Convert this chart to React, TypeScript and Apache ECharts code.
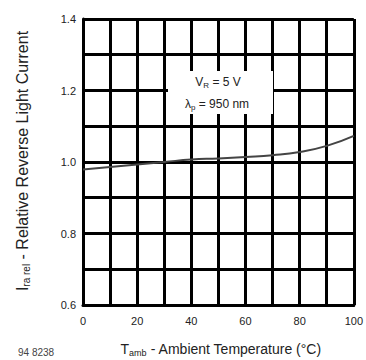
import React, { useEffect, useRef } from "react";
import * as echarts from "echarts";

const temps = [0, 10, 20, 30, 40, 50, 60, 70, 80, 90, 100];
const relCurrent = [0.979, 0.986, 0.993, 1.0, 1.007, 1.01, 1.014, 1.019, 1.028, 1.045, 1.073];
const xTickLabels = [0, 20, 40, 60, 80, 100];
const yTickLabels = [0.6, 0.8, 1.0, 1.2, 1.4];

export default function App() {
  const ref = useRef<HTMLDivElement>(null);
  useEffect(() => {
    if (!ref.current) return;
    const chart = echarts.init(ref.current, null, { renderer: "svg" });
    const font = "Liberation Sans, Arial, sans-serif";
    const rich = (n: number, s: number, pad: number) => ({
      n: { fontSize: n, fontFamily: font, fill: "#222" },
      s: { fontSize: s, fontFamily: font, fill: "#222", padding: [pad, 0, 0, 0] },
    });
    chart.setOption({
      animation: false,
      backgroundColor: "#fff",
      grid: { left: 83, right: 9, top: 19, bottom: 55, containLabel: false },
      xAxis: {
        type: "value",
        min: 0,
        max: 100,
        interval: 10,
        axisLine: { show: true, lineStyle: { color: "#000", width: 3 } },
        axisTick: { show: false },
        splitLine: { show: true, lineStyle: { color: "#000", width: 3 } },
        axisLabel: {
          color: "#222",
          fontFamily: font,
          fontSize: 11,
          margin: 10,
          formatter: (v: number) => (xTickLabels.includes(Math.round(v)) ? String(Math.round(v)) : ""),
        },
      },
      yAxis: {
        type: "value",
        min: 0.6,
        max: 1.4,
        interval: 0.1,
        axisLine: { show: true, lineStyle: { color: "#000", width: 3 } },
        axisTick: { show: false },
        splitLine: { show: true, lineStyle: { color: "#000", width: 3 } },
        axisLabel: {
          color: "#222",
          fontFamily: font,
          fontSize: 11,
          margin: 7,
          formatter: (v: number) => {
            const r = Math.round(v * 10) / 10;
            return yTickLabels.some((t) => Math.abs(t - r) < 1e-6) ? r.toFixed(1) : "";
          },
        },
      },
      series: [
        {
          type: "line",
          data: temps.map((t, i) => [t, relCurrent[i]]),
          smooth: true,
          showSymbol: false,
          lineStyle: { color: "#444", width: 2 },
          z: 5,
        },
      ],
      graphic: [
        { type: "rect", shape: { x: 168, y: 71, width: 105, height: 43 }, style: { fill: "#fff" }, z: 10 },
        {
          type: "text",
          x: 218,
          y: 82,
          z: 11,
          style: {
            text: "{n|V}{s|R}{n| = 5 V}",
            align: "center",
            verticalAlign: "middle",
            fill: "#222",
            font: `12px ${font}`,
            rich: rich(12, 8, 7),
          },
        },
        {
          type: "text",
          x: 217,
          y: 104,
          z: 11,
          style: {
            text: "{n|λ}{s|p}{n| = 950 nm}",
            align: "center",
            verticalAlign: "middle",
            fill: "#222",
            font: `12px ${font}`,
            rich: rich(12, 8, 7),
          },
        },
        {
          type: "text",
          x: 221,
          y: 349,
          style: {
            text: "{n|T}{s|amb}{n| - Ambient Temperature (°C)}",
            align: "center",
            verticalAlign: "middle",
            fill: "#222",
            font: `14px ${font}`,
            rich: rich(14, 9, 8),
          },
        },
        {
          type: "text",
          x: 22,
          y: 161,
          rotation: Math.PI / 2,
          style: {
            text: "{n|I}{s|ra rel}{n| - Relative Reverse Light Current}",
            align: "center",
            verticalAlign: "middle",
            fill: "#222",
            font: `16px ${font}`,
            rich: rich(16, 10, 8),
          },
        },
        {
          type: "text",
          x: 18,
          y: 352,
          style: {
            text: "94 8238",
            align: "left",
            verticalAlign: "middle",
            fill: "#444",
            font: `10px ${font}`,
          },
        },
      ],
    });
    return () => chart.dispose();
  }, []);
  return <div ref={ref} style={{ width: 366, height: 360, position: "absolute", left: 0, top: 0 }} />;
}
